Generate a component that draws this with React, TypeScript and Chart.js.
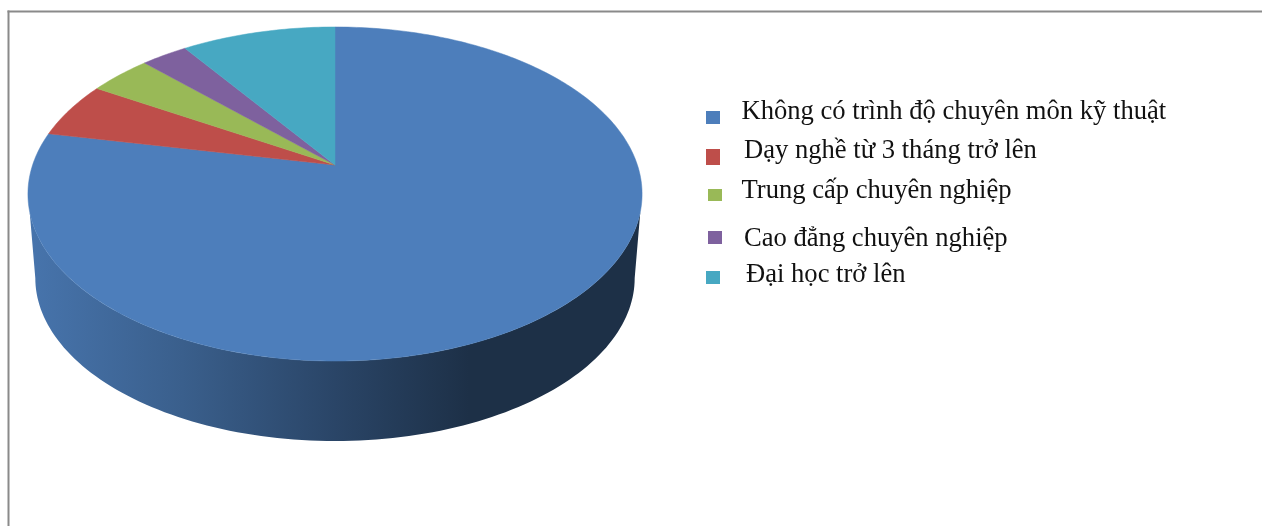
import React, { useEffect, useRef } from "react";
import { Chart, registerables } from "chart.js";

Chart.register(...registerables);

const categories = [
  "Không có trình độ chuyên môn kỹ thuật",
  "Dạy nghề từ 3 tháng trở lên",
  "Trung cấp chuyên nghiệp",
  "Cao đẳng chuyên nghiệp",
  "Đại học trở lên",
];
const shares = [78.2, 5.4, 3.9, 2.9, 9.6];
const sliceColors = ["#4d7ebb", "#be4e4a", "#99b957", "#7e619e", "#47a8c2"];

// Legend rows: [swatch x, swatch y, swatch w, swatch h, text x, baseline y]
const legendRows = [
  [706, 111, 14, 13, 741.5, 119],
  [706, 149, 14, 16, 744, 158],
  [708, 189, 14, 12, 741.5, 198],
  [708, 231, 14, 13, 744, 246],
  [706, 271, 14, 13, 746, 282],
];
const LEGEND_FONT = "26.6px 'Liberation Serif'";

// Perspective of the disc: a unit circle seen from above and in front.
const CENTER_X = 335;
const TOP_APEX_Y = 165;
const BOTTOM_APEX_Y = 249.7;
const BOTTOM_SCALE = 0.976;
const PERSPECTIVE = -0.1737;
const RADIUS_X = 302.4;
const RADIUS_Y = 162;

const project = (angle: number, apexY: number, scale: number): [number, number] => {
  const u = Math.cos(angle);
  const v = Math.sin(angle);
  const d = 1 + PERSPECTIVE * v;
  return [CENTER_X + (scale * RADIUS_X * u) / d, apexY + (scale * RADIUS_Y * v) / d];
};

const hexToRgb = (hex: string) => [1, 3, 5].map((i) => parseInt(hex.slice(i, i + 2), 16));
const shade = (hex: string, f: number) => {
  const [r, g, b] = hexToRgb(hex);
  return `rgb(${Math.round(r * f)},${Math.round(g * f)},${Math.round(b * f)})`;
};

// Visible part of the rim, in radians clockwise from the +x axis.
const RIM_START = (16 * Math.PI) / 180;
const RIM_END = (164 * Math.PI) / 180;
const BOTTOM_START = (10 * Math.PI) / 180;
const BOTTOM_END = (170 * Math.PI) / 180;

const drawWall = (ctx: CanvasRenderingContext2D, start: number, end: number, color: string) => {
  const from = Math.max(start, RIM_START);
  const to = Math.min(end, RIM_END);
  if (to <= from) return;
  const toBottom = (a: number) =>
    BOTTOM_START + ((a - RIM_START) / (RIM_END - RIM_START)) * (BOTTOM_END - BOTTOM_START);
  const steps = 120;
  ctx.beginPath();
  for (let i = 0; i <= steps; i++) {
    const [x, y] = project(from + ((to - from) * i) / steps, TOP_APEX_Y, 1);
    if (i === 0) ctx.moveTo(x, y);
    else ctx.lineTo(x, y);
  }
  for (let i = steps; i >= 0; i--) {
    const [x, y] = project(toBottom(from + ((to - from) * i) / steps), BOTTOM_APEX_Y, BOTTOM_SCALE);
    ctx.lineTo(x, y);
  }
  ctx.closePath();
  const g = ctx.createLinearGradient(30, 0, 640, 0);
  g.addColorStop(0, shade(color, 0.92));
  g.addColorStop(0.25, shade(color, 0.75));
  g.addColorStop(0.5, shade(color, 0.55));
  g.addColorStop(0.72, shade(color, 0.38));
  g.addColorStop(1, shade(color, 0.38));
  ctx.fillStyle = g;
  ctx.fill();
};

const drawTop = (ctx: CanvasRenderingContext2D, start: number, end: number, color: string) => {
  const steps = Math.max(4, Math.ceil((end - start) * 60));
  ctx.beginPath();
  ctx.moveTo(CENTER_X, TOP_APEX_Y);
  for (let i = 0; i <= steps; i++) {
    const [x, y] = project(start + ((end - start) * i) / steps, TOP_APEX_Y, 1);
    ctx.lineTo(x, y);
  }
  ctx.closePath();
  ctx.fillStyle = color;
  ctx.strokeStyle = color;
  ctx.lineWidth = 0.5;
  ctx.fill();
  ctx.stroke();
};

// Replaces the flat arcs with a tilted disc built from the arc elements' own angles.
const tiltedDisc = {
  id: "tiltedDisc",
  beforeDatasetDraw(chart: Chart, args: { index: number }) {
    const ctx = chart.ctx;
    const arcs = chart.getDatasetMeta(args.index).data as any[];
    ctx.save();
    arcs.forEach((arc, i) => {
      const twoPi = Math.PI * 2;
      drawWall(ctx, arc.startAngle, arc.endAngle, sliceColors[i]);
      drawWall(ctx, arc.startAngle - twoPi, arc.endAngle - twoPi, sliceColors[i]);
    });
    arcs.forEach((arc, i) => drawTop(ctx, arc.startAngle, arc.endAngle, sliceColors[i]));
    ctx.restore();
    return false;
  },
};

// Frame along the top and left of the chart area, and the hand-placed legend.
const chartDressing = {
  id: "chartDressing",
  beforeDraw(chart: Chart) {
    const ctx = chart.ctx;
    ctx.save();
    ctx.fillStyle = "#ffffff";
    ctx.fillRect(0, 0, chart.width, chart.height);
    ctx.fillStyle = "#8a8a8a";
    ctx.fillRect(7.5, 10.5, chart.width - 7.5, 2);
    ctx.fillRect(7.5, 10.5, 2, chart.height - 10.5);
    ctx.restore();
  },
  afterDraw(chart: Chart) {
    const ctx = chart.ctx;
    ctx.save();
    ctx.font = LEGEND_FONT;
    ctx.textBaseline = "alphabetic";
    categories.forEach((label, i) => {
      const [sx, sy, sw, sh, tx, ty] = legendRows[i];
      ctx.fillStyle = sliceColors[i];
      ctx.fillRect(sx, sy, sw, sh);
      ctx.fillStyle = "#111111";
      ctx.fillText(label, tx, ty);
    });
    ctx.restore();
  },
};

export default function App() {
  const canvasRef = useRef<HTMLCanvasElement | null>(null);

  useEffect(() => {
    document.body.style.margin = "0";
    const chart = new Chart(canvasRef.current!, {
      type: "pie",
      data: {
        labels: categories,
        datasets: [{ data: shares, backgroundColor: sliceColors, borderWidth: 0 }],
      },
      options: {
        responsive: false,
        animation: false,
        plugins: { legend: { display: false }, tooltip: { enabled: false } },
      },
      plugins: [chartDressing, tiltedDisc],
    });
    return () => chart.destroy();
  }, []);

  return (
    <div style={{ width: 1262, height: 526, overflow: "hidden" }}>
      <canvas ref={canvasRef} width={1262} height={526} style={{ display: "block" }} />
    </div>
  );
}
